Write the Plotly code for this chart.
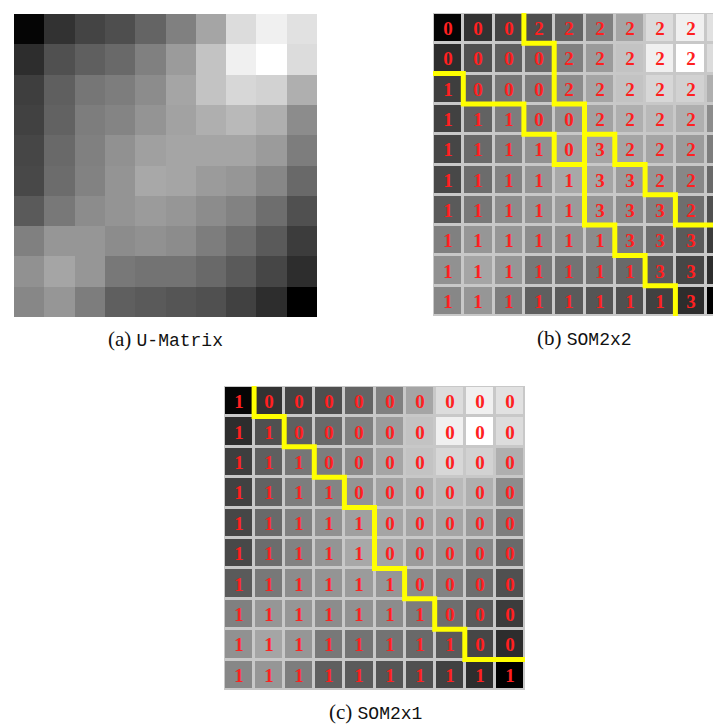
import plotly.graph_objects as go

W, H = 721, 727

# U-Matrix gray levels (rows top -> bottom, cols left -> right)
umat = [
    [5, 50, 68, 78, 100, 128, 165, 220, 240, 225],
    [45, 80, 95, 105, 128, 155, 195, 240, 255, 220],
    [62, 95, 118, 125, 140, 165, 195, 215, 210, 175],
    [65, 98, 125, 132, 148, 162, 175, 185, 175, 140],
    [70, 105, 128, 145, 160, 165, 165, 165, 155, 125],
    [72, 108, 130, 148, 168, 165, 155, 150, 135, 105],
    [90, 120, 140, 148, 155, 150, 140, 130, 110, 80],
    [128, 150, 150, 140, 145, 140, 125, 110, 90, 60],
    [145, 165, 150, 120, 115, 115, 105, 90, 70, 45],
    [135, 150, 125, 95, 90, 85, 80, 65, 45, 0],
]

labels_2x2 = [
    [0, 0, 0, 2, 2, 2, 2, 2, 2, 2],
    [0, 0, 0, 0, 2, 2, 2, 2, 2, 2],
    [1, 0, 0, 0, 2, 2, 2, 2, 2, 2],
    [1, 1, 1, 0, 0, 2, 2, 2, 2, 2],
    [1, 1, 1, 1, 0, 3, 2, 2, 2, 2],
    [1, 1, 1, 1, 1, 3, 3, 2, 2, 2],
    [1, 1, 1, 1, 1, 3, 3, 3, 2, 2],
    [1, 1, 1, 1, 1, 1, 3, 3, 3, 3],
    [1, 1, 1, 1, 1, 1, 1, 3, 3, 3],
    [1, 1, 1, 1, 1, 1, 1, 1, 3, 3],
]

labels_2x1 = [
    [1, 0, 0, 0, 0, 0, 0, 0, 0, 0],
    [1, 1, 0, 0, 0, 0, 0, 0, 0, 0],
    [1, 1, 1, 0, 0, 0, 0, 0, 0, 0],
    [1, 1, 1, 1, 0, 0, 0, 0, 0, 0],
    [1, 1, 1, 1, 1, 0, 0, 0, 0, 0],
    [1, 1, 1, 1, 1, 0, 0, 0, 0, 0],
    [1, 1, 1, 1, 1, 1, 0, 0, 0, 0],
    [1, 1, 1, 1, 1, 1, 1, 0, 0, 0],
    [1, 1, 1, 1, 1, 1, 1, 1, 0, 0],
    [1, 1, 1, 1, 1, 1, 1, 1, 1, 1],
]

captions = [("(a)", "U-Matrix"), ("(b)", "SOM2x2"), ("(c)", "SOM2x1")]

N = 10
gray = [[0, "#000000"], [1, "#ffffff"]]


def boundary_paths(lab):
    # collect unit edges between cells with different labels
    edges = []
    for r in range(N):
        for c in range(N):
            if c + 1 < N and lab[r][c] != lab[r][c + 1]:
                edges.append(((c + 0.5, r - 0.5), (c + 0.5, r + 0.5)))
            if r + 1 < N and lab[r][c] != lab[r + 1][c]:
                edges.append(((c - 0.5, r + 0.5), (c + 0.5, r + 0.5)))
    adj = {}
    for a, b in edges:
        adj.setdefault(a, []).append(b)
        adj.setdefault(b, []).append(a)
    used = set()
    xs, ys = [], []

    def walk(start):
        pts = [start]
        cur = start
        while True:
            nxt = None
            for p in adj[cur]:
                key = frozenset((cur, p))
                if key not in used:
                    nxt = p
                    used.add(key)
                    break
            if nxt is None:
                break
            pts.append(nxt)
            cur = nxt
        return pts

    starts = sorted([p for p in adj if len(adj[p]) % 2 == 1]) + sorted(adj)
    for s in starts:
        while any(frozenset((s, p)) not in used for p in adj[s]):
            pts = walk(s)
            xs += [p[0] for p in pts] + [None]
            ys += [p[1] for p in pts] + [None]
    return xs, ys


fig = go.Figure()


def px_dom(x0, x1, y0, y1):
    return [x0 / W, x1 / W], [1 - y1 / H, 1 - y0 / H]


panels = [
    # (pixel box, labels, x range right end)
    ((6, 309, 6, 309), None, 9.5),
    ((425, 721, 5, 308), labels_2x2, -0.5 + 296 / 30.3),
    ((216, 517, 378, 682), labels_2x1, 9.5),
]

for i, (box, lab, xr) in enumerate(panels):
    n = "" if i == 0 else str(i + 1)
    xd, yd = px_dom(*box)
    hm = dict(
        z=umat, colorscale=gray, zmin=0, zmax=255, showscale=False,
        hoverinfo="skip", xaxis="x" + n, yaxis="y" + n,
    )
    if lab is not None:
        hm.update(
            text=[[str(v) for v in row] for row in lab],
            texttemplate="%{text}",
            textfont=dict(family="Liberation Serif", size=19, color="#ff2020",
                          weight="bold"),
            xgap=3, ygap=3,
        )
    fig.add_trace(go.Heatmap(**hm))
    if lab is not None:
        bx, by = boundary_paths(lab)
        fig.add_trace(go.Scatter(
            x=bx, y=by, mode="lines", line=dict(color="#ffff00", width=5),
            hoverinfo="skip", showlegend=False, xaxis="x" + n, yaxis="y" + n,
        ))
    fig.layout["xaxis" + n] = dict(domain=xd, range=[-0.5, xr], visible=False,
                                   fixedrange=True)
    fig.layout["yaxis" + n] = dict(domain=yd, range=[9.5, -0.5], visible=False,
                                   fixedrange=True)
    lbl, name = captions[i]
    cx = (box[0] + (box[0] + 303)) / 2 / W
    cy = 1 - (box[3] + 22) / H
    fig.add_annotation(
        xref="paper", yref="paper", x=cx, y=cy, showarrow=False,
        xanchor="center", yanchor="middle",
        text=lbl + " <span style='font-family:Liberation Mono;font-size:18px'>"
        + name + "</span>",
        font=dict(family="Liberation Serif", size=21, color="#111111"),
    )

fig.update_layout(
    width=W, height=H, margin=dict(l=0, r=0, t=0, b=0),
    paper_bgcolor="white", plot_bgcolor="#c8c8c8", showlegend=False,
)

fig.write_html("out.html")
